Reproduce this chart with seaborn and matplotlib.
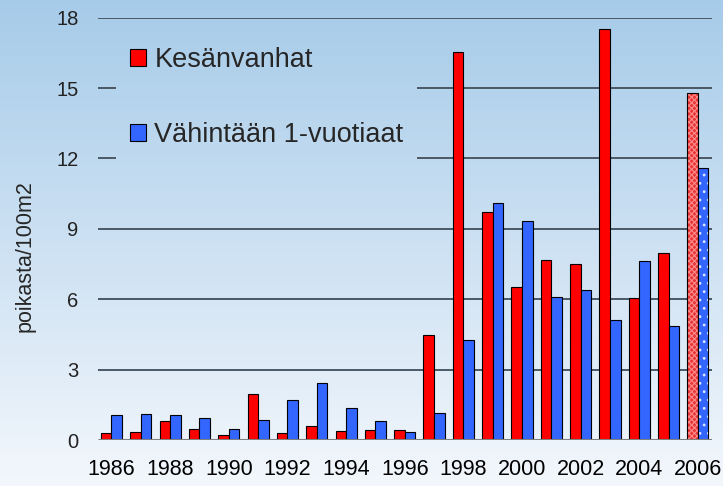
"""Poikastiheydet 1986-2006 (kesänvanhat ja vähintään 1-vuotiaat)."""

import matplotlib.pyplot as plt
import numpy as np
import pandas as pd
import seaborn as sns
from matplotlib.colors import to_rgba

years = list(range(1986, 2007))
kesanvanhat = [0.28, 0.33, 0.80, 0.48, 0.20, 1.94, 0.28, 0.61, 0.38, 0.43, 0.43,
               4.48, 16.55, 9.70, 6.52, 7.66, 7.49, 17.52, 6.05, 7.98, 14.79]
vahintaan = [1.06, 1.10, 1.06, 0.92, 0.47, 0.84, 1.72, 2.41, 1.35, 0.80, 0.33,
             1.16, 4.25, 10.12, 9.33, 6.11, 6.38, 5.13, 7.62, 4.86, 11.58]
series_names = ["Kesänvanhat", "Vähintään 1-vuotiaat"]
y_ticks = [0, 3, 6, 9, 12, 15, 18]
x_labels = [str(y) if y % 2 == 0 else "" for y in years]


def set_hatch_color(patch, color):
    # matplotlib < 3.11 has no public setter, hatch follows the edge colour
    if hasattr(patch, "set_hatchcolor"):
        patch.set_hatchcolor(color)
    else:
        patch._hatch_color = to_rgba(color)


if __name__ == "__main__":
    df = pd.DataFrame({
        "year": [str(y) for y in years] * 2,
        "value": kesanvanhat + vahintaan,
        "group": [series_names[0]] * len(years) + [series_names[1]] * len(years),
    })

    sns.set_theme(style="white")
    plt.rcParams["font.family"] = ["Liberation Sans", "DejaVu Sans"]
    plt.rcParams["hatch.linewidth"] = 0.8

    fig = plt.figure(figsize=(7.23, 4.86), dpi=100)

    # gradient background, steel blue at top fading to near white
    top = np.array([166, 203, 233]) / 255
    bottom = np.array([243, 247, 252]) / 255
    t = np.linspace(0, 1, 256)[:, None]
    grad = (top * (1 - t) + bottom * t)[:, None, :]
    bg = fig.add_axes([0, 0, 1, 1])
    bg.imshow(grad, aspect="auto", extent=[0, 1, 0, 1])
    bg.axis("off")

    ax = fig.add_axes([98 / 723, 1 - 440 / 486, 614 / 723, 422.3 / 486])
    ax.patch.set_alpha(0)

    sns.barplot(
        df,
        x="year",
        y="value",
        hue="group",
        palette=["#ff0000", "#3366ff"],
        saturation=1,
        width=0.72,
        edgecolor="black",
        linewidth=0.8,
        ax=ax,
        zorder=2,
    )

    # 2006 bars are patterned (preliminary values)
    red06 = ax.containers[0][-1]
    blue06 = ax.containers[1][-1]
    red06.set_facecolor("#e83434")
    red06.set_hatch("xxxxxx")
    set_hatch_color(red06, "#ff8a8a")
    blue06.set_hatch("..")
    set_hatch_color(blue06, "#dde6ff")

    ax.set_xlim(-0.46, 20.48)
    ax.set_ylim(0, 18)
    ax.set_yticks(y_ticks)
    ax.set_xticks(range(len(years)))
    ax.set_xticklabels(x_labels, fontsize=15.5)
    ax.tick_params(axis="x", length=0, pad=14, colors="black")
    ax.tick_params(axis="y", length=0, pad=14, labelsize=14.5, colors="#222222")
    ax.set_xlabel("")
    ax.set_ylabel("poikasta/100m2", fontsize=15.5, va="center")
    ax.yaxis.set_label_coords(-0.119, 0.436)
    sns.despine(ax=ax, left=True, bottom=True)

    # horizontal grid, broken where the legend box sits
    ytr = ax.get_yaxis_transform()
    grid_kw = dict(transform=ytr, color="#4b5866", linewidth=1.4, zorder=1)
    full = [v for v in y_ticks if v not in (0, 12, 15)]
    ax.hlines(full, 0, 1, **grid_kw)
    ax.hlines([12, 15], 0, 0.029, **grid_kw)
    ax.hlines([12, 15], 0.52, 1, **grid_kw)
    ax.hlines(0, 0, 1, transform=ytr, color="#808080", linewidth=2.2, zorder=3)

    handles, labels = ax.get_legend_handles_labels()
    ax.legend(
        handles,
        labels,
        loc="upper left",
        bbox_to_anchor=(0.052, 0.93),
        frameon=False,
        fontsize=19.5,
        handlelength=0.6,
        handleheight=0.6,
        handletextpad=0.3,
        labelspacing=1.8,
        borderpad=0,
        borderaxespad=0,
    )

    fig.savefig("out.png", dpi=100)
    plt.close()
